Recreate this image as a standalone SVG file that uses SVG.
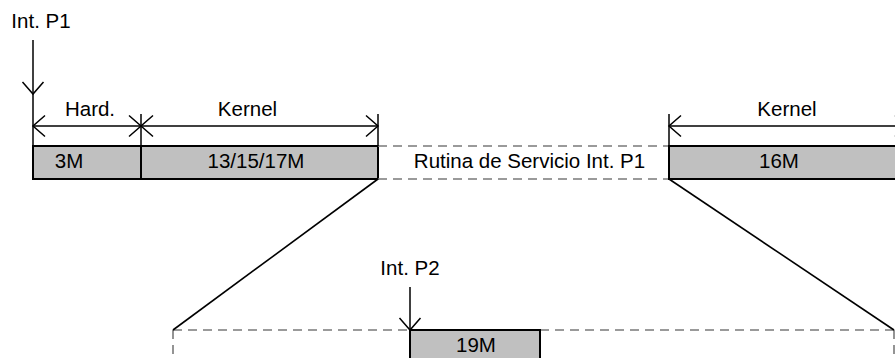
<svg xmlns="http://www.w3.org/2000/svg" width="895" height="358" viewBox="0 0 895 358">
  <style>
    text { font-family: "Liberation Sans", Arial, sans-serif; font-size: 20.5px; fill: #000; text-anchor: middle; }
    .seg { fill: #c0c0c0; stroke: #000; stroke-width: 2; }
    .dim { stroke: #000; stroke-width: 1.5; fill: none; }
    .tick { stroke: #000; stroke-width: 1.5; }
    .zoom { stroke: #000; stroke-width: 1.6; fill: none; }
    .gap { stroke: #7a7a7a; stroke-width: 1.6; stroke-dasharray: 9 6; fill: none; }
  </style>
  <defs>
    <marker id="open" markerUnits="userSpaceOnUse" viewBox="0 0 13 23" refX="12" refY="11.5"
            markerWidth="13" markerHeight="23" orient="auto-start-reverse" overflow="visible">
      <path d="M0,1 L12,11.5 L0,22" fill="none" stroke="#000" stroke-width="1.5"/>
    </marker>
  </defs>
  <rect width="895" height="358" fill="#fff"/>

  <!-- main timeline segments -->
  <g id="seg-hard">
    <rect class="seg" x="33" y="146" width="108" height="33"/>
    <text x="69" y="168">3M</text>
  </g>
  <g id="seg-kernel-entry">
    <rect class="seg" x="141" y="146" width="237" height="33"/>
    <text x="256" y="168">13/15/17M</text>
  </g>
  <g id="seg-routine">
    <path class="gap" d="M378,146 H669 M378,179 H669"/>
    <text x="529.5" y="168">Rutina de Servicio Int. P1</text>
  </g>
  <g id="seg-kernel-exit">
    <rect class="seg" x="669" y="146" width="240" height="33"/>
    <text x="779" y="168">16M</text>
  </g>

  <!-- expanded routine -->
  <g id="routine-detail">
    <path class="gap" d="M173,330 H410 M540,330 H894 M173,330 V362 M894,330 V362"/>
  </g>
  <g id="seg-p2">
    <rect class="seg" x="410" y="330" width="130" height="40"/>
    <text x="476" y="352">19M</text>
  </g>

  <!-- labels -->
  <g id="label-p1"><text x="41" y="28">Int. P1</text></g>
  <g id="label-hard"><text x="90" y="116">Hard.</text></g>
  <g id="label-kernel-1"><text x="247.5" y="116">Kernel</text></g>
  <g id="label-kernel-2"><text x="787" y="116">Kernel</text></g>
  <g id="label-p2"><text x="410" y="275">Int. P2</text></g>

  <!-- connectors: interrupt arrows, dimension lines, zoom lines -->
  <g id="connectors">
    <line class="dim" x1="33" y1="40" x2="33" y2="94" marker-end="url(#open)"/>
    <line class="tick" x1="33" y1="94" x2="33" y2="146"/>
    <line class="tick" x1="141" y1="114" x2="141" y2="146"/>
    <line class="tick" x1="378" y1="114" x2="378" y2="146"/>
    <line class="tick" x1="669" y1="114" x2="669" y2="146"/>
    <line class="dim" x1="33" y1="126" x2="141" y2="126" marker-start="url(#open)" marker-end="url(#open)"/>
    <line class="dim" x1="141" y1="126" x2="378" y2="126" marker-start="url(#open)" marker-end="url(#open)"/>
    <line class="dim" x1="669" y1="126" x2="907" y2="126" marker-start="url(#open)" marker-end="url(#open)"/>
    <line class="dim" x1="410" y1="287" x2="410" y2="330" marker-end="url(#open)"/>
    <line class="zoom" x1="378" y1="179" x2="173" y2="330"/>
    <line class="zoom" x1="669" y1="179" x2="894" y2="330"/>
  </g>
</svg>
